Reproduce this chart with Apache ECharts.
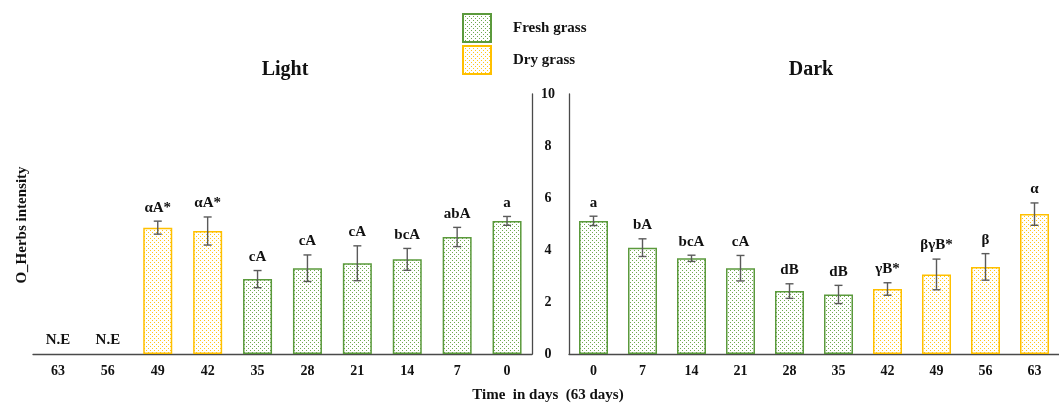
<!DOCTYPE html>
<html>
<head>
<meta charset="utf-8">
<script src="https://cdn.jsdelivr.net/npm/echarts@6/dist/echarts.min.js"></script>
<style>html,body{margin:0;padding:0;background:#fff}#c{width:1059px;height:404px}</style>
</head>
<body>
<div id="c"></div>
<script>
// ---- data ----
const lightDays   = ['63','56','49','42','35','28','21','14','7','0'];
const lightValues = [0, 0, 4.86, 4.73, 2.88, 3.30, 3.49, 3.64, 4.50, 5.12];
const lightErrors = [0, 0, 0.25, 0.54, 0.33, 0.51, 0.67, 0.42, 0.37, 0.17];
const lightLabels = ['N.E','N.E','αA*','αA*','cA','cA','cA','bcA','abA','a'];
const lightTypes  = ['ne','ne','dry','dry','fresh','fresh','fresh','fresh','fresh','fresh'];

const darkDays   = ['0','7','14','21','28','35','42','49','56','63'];
const darkValues = [5.12, 4.09, 3.68, 3.30, 2.42, 2.29, 2.50, 3.06, 3.35, 5.38];
const darkErrors = [0.18, 0.34, 0.12, 0.49, 0.28, 0.35, 0.24, 0.59, 0.51, 0.43];
const darkLabels = ['a','bA','bcA','cA','dB','dB','γB*','βγB*','β','α'];
const darkTypes  = ['fresh','fresh','fresh','fresh','fresh','fresh','dry','dry','dry','dry'];

const yTicks = {min: 0, max: 10, interval: 2};
const seriesNames = {fresh: 'Fresh grass', dry: 'Dry grass'};

// ---- styles ----
const FONT = 'Liberation Serif';
function makePattern(dot) {
  const c = document.createElement('canvas');
  c.width = 4; c.height = 4;
  const ctx = c.getContext('2d');
  ctx.fillStyle = '#ffffff'; ctx.fillRect(0, 0, 4, 4);
  ctx.fillStyle = dot;
  ctx.fillRect(0, 0, 1, 1);
  ctx.fillRect(2, 2, 1, 1);
  return {image: c, repeat: 'repeat'};
}
const freshStyle = {color: makePattern('#6ea84e'), borderColor: '#5b9a3c', borderWidth: 1.5};
const dryStyle = {color: makePattern('#ffc61a'), borderColor: '#ffc000', borderWidth: 1.5};

function pick(values, types, t) {
  return values.map((v, i) => types[i] === t ? v : null);
}
function errData(values, errors, labels) {
  return values.map((v, i) => [i, v, errors[i], labels[i]]);
}
function renderErr(params, api) {
  const i = api.value(0), v = api.value(1), e = api.value(2);
  const lbl = params.dataIndex;
  const children = [];
  const top = api.coord([i, v + e]);
  const bot = api.coord([i, v - e]);
  const c = api.coord([i, v]);
  const style = {stroke: '#5a5a5a', lineWidth: 1.4};
  if (e > 0) {
    children.push({type: 'line', shape: {x1: top[0], y1: top[1], x2: bot[0], y2: bot[1]}, style});
    children.push({type: 'line', shape: {x1: top[0] - 4, y1: top[1], x2: top[0] + 4, y2: top[1]}, style});
    children.push({type: 'line', shape: {x1: bot[0] - 4, y1: bot[1], x2: bot[0] + 4, y2: bot[1]}, style});
  }
  const text = params.seriesIndex === 2 ? lightLabels[lbl] : darkLabels[lbl];
  children.push({type: 'text', x: top[0], y: (e > 0 ? top[1] : c[1]) - 6,
    style: {text: text, textAlign: 'center', textVerticalAlign: 'bottom',
      font: 'bold 15px "' + FONT + '"', fill: '#111'}});
  return {type: 'group', children};
}

const axisLineStyle = {color: '#4a4a4a', width: 1.3};
const xLabel = {fontFamily: FONT, fontWeight: 'bold', fontSize: 14, color: '#111', margin: 10};

const option = {
  animation: false,
  backgroundColor: '#fff',
  textStyle: {fontFamily: FONT},
  title: [
    {text: 'Light', left: 280, top: 55, textAlign: 'center',
     textStyle: {fontFamily: FONT, fontWeight: 'bold', fontSize: 20, color: '#111'}},
    {text: 'Dark', left: 806, top: 55, textAlign: 'center',
     textStyle: {fontFamily: FONT, fontWeight: 'bold', fontSize: 20, color: '#111'}}
  ],
  legend: {
    orient: 'vertical', left: 457, top: 8, itemWidth: 28, itemHeight: 28, itemGap: 2,
    icon: 'rect', data: [seriesNames.fresh, seriesNames.dry],
    textStyle: {fontFamily: FONT, fontWeight: 'bold', fontSize: 15, color: '#111', padding: [0, 0, 0, 17]}
  },
  graphic: [
    {type: 'text', x: 22, y: 225, rotation: Math.PI / 2,
     style: {text: 'O_Herbs intensity', textAlign: 'center', textVerticalAlign: 'middle',
       font: 'bold 15px "' + FONT + '"', fill: '#111'}},
    {type: 'text', x: 548, y: 395,
     style: {text: 'Time  in days  (63 days)', textAlign: 'center', textVerticalAlign: 'middle',
       font: 'bold 15px "' + FONT + '"', fill: '#111'}}
  ],
  grid: [
    {left: 33, top: 94, width: 499, height: 260},
    {left: 569, top: 94, width: 500, height: 260}
  ],
  xAxis: [
    {type: 'category', gridIndex: 0, data: lightDays, axisTick: {show: false},
     axisLine: {lineStyle: axisLineStyle}, axisLabel: xLabel},
    {type: 'category', gridIndex: 1, data: darkDays, axisTick: {show: false},
     axisLine: {lineStyle: axisLineStyle}, axisLabel: xLabel}
  ],
  yAxis: [
    {type: 'value', gridIndex: 0, position: 'right', min: yTicks.min, max: yTicks.max, interval: yTicks.interval,
     splitLine: {show: false}, axisTick: {show: false}, axisLabel: {show: false},
     axisLine: {show: true, lineStyle: axisLineStyle}},
    {type: 'value', gridIndex: 1, position: 'left', min: yTicks.min, max: yTicks.max, interval: yTicks.interval,
     splitLine: {show: false}, axisTick: {show: false},
     axisLine: {show: true, lineStyle: axisLineStyle},
     axisLabel: {align: 'center', margin: 21, fontFamily: FONT, fontWeight: 'bold', fontSize: 14, color: '#111'}}
  ],
  series: [
    {name: seriesNames.fresh, type: 'bar', xAxisIndex: 0, yAxisIndex: 0, barWidth: 29, barGap: '-100%',
     itemStyle: freshStyle, data: pick(lightValues, lightTypes, 'fresh')},
    {name: seriesNames.dry, type: 'bar', xAxisIndex: 0, yAxisIndex: 0, barWidth: 29, barGap: '-100%',
     itemStyle: dryStyle, data: pick(lightValues, lightTypes, 'dry')},
    {type: 'custom', xAxisIndex: 0, yAxisIndex: 0, renderItem: renderErr, z: 10,
     data: errData(lightValues, lightErrors, lightLabels)},
    {name: seriesNames.fresh, type: 'bar', xAxisIndex: 1, yAxisIndex: 1, barWidth: 29, barGap: '-100%',
     itemStyle: freshStyle, data: pick(darkValues, darkTypes, 'fresh')},
    {name: seriesNames.dry, type: 'bar', xAxisIndex: 1, yAxisIndex: 1, barWidth: 29, barGap: '-100%',
     itemStyle: dryStyle, data: pick(darkValues, darkTypes, 'dry')},
    {type: 'custom', xAxisIndex: 1, yAxisIndex: 1, renderItem: renderErr, z: 10,
     data: errData(darkValues, darkErrors, darkLabels)}
  ]
};
const chart = echarts.init(document.getElementById('c'), null, {renderer: 'canvas'});
chart.setOption(option);
</script>
</body>
</html>
